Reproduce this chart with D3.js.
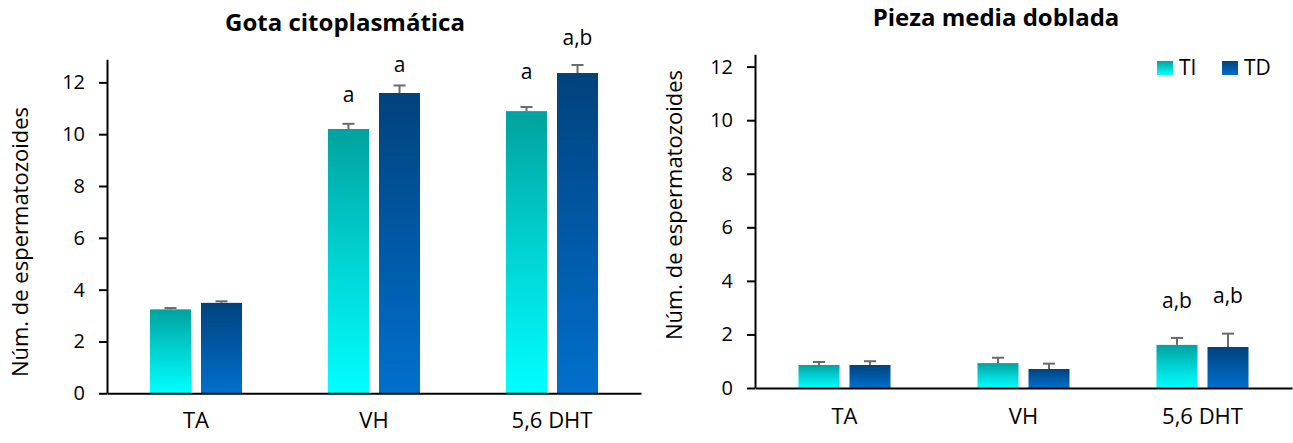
<!DOCTYPE html>
<html>
<head>
<meta charset="utf-8">
<script src="https://cdn.jsdelivr.net/npm/d3@7"></script>
<style>
  body { margin: 0; background: #fff; }
  text { font-family: "Open Sans", "Liberation Sans", Arial, sans-serif; fill: #000; }
</style>
</head>
<body>
<svg id="viz"></svg>
<script>
var width = 1293;
var height = 443;

// categories and series
var categories = ["TA", "VH", "5,6 DHT"];
var series = ["TI", "TD"];

// Gota citoplasmática: means and (upper) errors
var gotaTI = [3.24, 10.2, 10.89];
var gotaTD = [3.49, 11.59, 12.36];
var gotaTIerr = [0.05, 0.2, 0.16];
var gotaTDerr = [0.06, 0.29, 0.31];

// Pieza media doblada
var piezaTI = [0.86, 0.93, 1.61];
var piezaTD = [0.86, 0.71, 1.53];
var piezaTIerr = [0.11, 0.2, 0.26];
var piezaTDerr = [0.14, 0.2, 0.5];

// significance letters: [category, series, text, level on the y axis]
var gotaLetters = [
  ["VH", "TI", "a", 11.51],
  ["VH", "TD", "a", 12.7],
  ["5,6 DHT", "TI", "a", 12.43],
  ["5,6 DHT", "TD", "a,b", 13.73]
];
var piezaLetters = [
  ["5,6 DHT", "TI", "a,b", 3.25],
  ["5,6 DHT", "TD", "a,b", 3.44]
];

var yTicks = [0, 2, 4, 6, 8, 10, 12];
var yLabel = "Núm. de espermatozoides";

var svg = d3.select("#viz").attr("width", width).attr("height", height);

// bar gradients (per bar, top dark -> bottom light)
var defs = svg.append("defs");
function grad(id, top, mid, bottom) {
  var g = defs.append("linearGradient").attr("id", id)
    .attr("x1", 0).attr("y1", 0).attr("x2", 0).attr("y2", 1);
  g.append("stop").attr("offset", "0%").attr("stop-color", top);
  g.append("stop").attr("offset", "50%").attr("stop-color", mid);
  g.append("stop").attr("offset", "100%").attr("stop-color", bottom);
}
grad("gTI", "#00a29e", "#00d3d3", "#00ffff");
grad("gTD", "#00427c", "#0059a6", "#0070cc");
var fills = {TI: "url(#gTI)", TD: "url(#gTD)"};

function drawPanel(p) {
  var rows = categories.map(function(c, i) {
    return {cat: c, vals: [
      {s: "TI", v: p.ti[i], e: p.tiErr[i]},
      {s: "TD", v: p.td[i], e: p.tdErr[i]}
    ]};
  });

  var x0 = d3.scaleBand().domain(categories).range([p.left, p.right])
    .paddingInner(p.pad).paddingOuter(p.pad / 2);
  var x1 = d3.scaleBand().domain(series).range([0, x0.bandwidth()])
    .paddingInner(0.196).paddingOuter(0);
  var y = d3.scaleLinear().domain([0, p.yMax]).range([p.bottom, p.top]);

  var g = svg.append("g");

  // title
  g.append("text")
    .attr("x", p.titleX).attr("y", p.titleY)
    .attr("text-anchor", "middle")
    .style("font-size", "24px").style("font-weight", 700)
    .text(p.title);

  // bars
  var grp = g.selectAll(".cat").data(rows).enter().append("g")
    .attr("transform", function(d) { return "translate(" + x0(d.cat) + ",0)"; });

  grp.selectAll("rect").data(function(d) { return d.vals; }).enter().append("rect")
    .attr("x", function(d) { return x1(d.s); })
    .attr("y", function(d) { return y(d.v); })
    .attr("width", x1.bandwidth())
    .attr("height", function(d) { return y(0) - y(d.v); })
    .attr("fill", function(d) { return fills[d.s]; });

  // error bars (upper only)
  var eb = grp.selectAll(".err").data(function(d) { return d.vals; }).enter().append("g")
    .attr("stroke", "#6a6a6a").attr("stroke-width", 2);
  eb.append("line")
    .attr("x1", function(d) { return x1(d.s) + x1.bandwidth() / 2; })
    .attr("x2", function(d) { return x1(d.s) + x1.bandwidth() / 2; })
    .attr("y1", function(d) { return y(d.v); })
    .attr("y2", function(d) { return y(d.v + d.e); });
  eb.append("line")
    .attr("x1", function(d) { return x1(d.s) + x1.bandwidth() / 2 - 6; })
    .attr("x2", function(d) { return x1(d.s) + x1.bandwidth() / 2 + 6; })
    .attr("y1", function(d) { return y(d.v + d.e); })
    .attr("y2", function(d) { return y(d.v + d.e); });

  // letters
  g.selectAll(".letter").data(p.letters).enter().append("text")
    .attr("x", function(d) { return x0(d[0]) + x1(d[1]) + x1.bandwidth() / 2; })
    .attr("y", function(d) { return y(d[3]); })
    .attr("dy", "0.35em")
    .attr("text-anchor", "middle")
    .style("font-size", "21px")
    .text(function(d) { return d[2]; });

  // y axis
  var yAxis = g.append("g").attr("transform", "translate(" + p.left + ",0)")
    .call(d3.axisLeft(y).tickValues(yTicks).tickSize(8).tickPadding(14).tickSizeOuter(0));
  yAxis.select(".domain").attr("stroke", "#000").attr("stroke-width", 2);
  yAxis.selectAll(".tick line").attr("stroke", "#000").attr("stroke-width", 2);
  yAxis.selectAll(".tick text").style("font-size", "20px")
    .style("font-family", "'Open Sans', sans-serif").attr("fill", "#000");

  // x axis
  var xAxis = g.append("g").attr("transform", "translate(0," + p.bottom + ")")
    .call(d3.axisBottom(x0).tickSize(0).tickPadding(p.catPad).tickSizeOuter(0));
  xAxis.select(".domain").attr("stroke", "#000").attr("stroke-width", 2);
  xAxis.selectAll(".tick text").style("font-size", "22px")
    .style("font-family", "'Open Sans', sans-serif").attr("fill", "#000");

  // y label
  g.append("text")
    .attr("transform", "translate(" + p.labelX + "," + p.labelY + ") rotate(-90)")
    .attr("text-anchor", "middle")
    .style("font-size", "22px")
    .text(yLabel);
}

drawPanel({
  title: "Gota citoplasmática", titleX: 345, titleY: 31,
  ti: gotaTI, td: gotaTD, tiErr: gotaTIerr, tdErr: gotaTDerr,
  letters: gotaLetters,
  left: 107, right: 641, top: 59.3, bottom: 393.3, yMax: 12.89,
  pad: 0.483, catPad: 19,
  labelX: 28, labelY: 242
});

drawPanel({
  title: "Pieza media doblada", titleX: 996, titleY: 26,
  ti: piezaTI, td: piezaTD, tiErr: piezaTIerr, tdErr: piezaTDerr,
  letters: piezaLetters,
  left: 755, right: 1292, top: 54.3, bottom: 388, yMax: 12.46,
  pad: 0.486, catPad: 20,
  labelX: 682, labelY: 205
});

// legend
var legend = svg.append("g").attr("transform", "translate(1157,61)");
var li = legend.selectAll("g").data(series).enter().append("g")
  .attr("transform", function(d, i) { return "translate(" + (i * 65) + ",0)"; });
li.append("rect").attr("width", 16).attr("height", 14)
  .attr("fill", function(d) { return fills[d]; });
li.append("text").attr("x", 22).attr("y", 7).attr("dy", "0.35em")
  .style("font-size", "21px")
  .text(function(d) { return d; });
</script>
</body>
</html>
